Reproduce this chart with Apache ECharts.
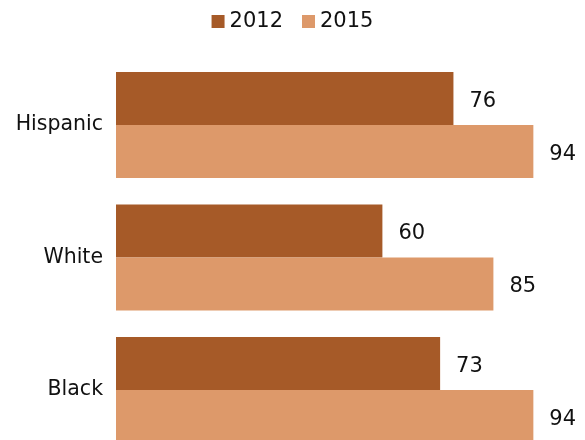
<!DOCTYPE html>
<html><head><meta charset="utf-8">
<script src="https://cdn.jsdelivr.net/npm/echarts@6/dist/echarts.min.js"></script>
<style>html,body{margin:0;padding:0;background:#fff}#c{width:585px;height:440px}</style>
</head><body><div id="c"></div>
<script>
const categories = ['Hispanic', 'White', 'Black'];
const seriesNames = ['2012', '2015'];
const values2012 = [76, 60, 73];
const values2015 = [94, 85, 94];

const chart = echarts.init(document.getElementById('c'));
const labelStyle = { show: true, position: 'right', distance: 16, offset: [0, 3], fontSize: 21, color: '#111', fontFamily: 'DejaVu Sans' };
chart.setOption({
  animation: false,
  legend: {
    top: 6, left: 'center', itemWidth: 13, itemHeight: 13, itemGap: 19,
    icon: 'rect',
    textStyle: { fontSize: 21, color: '#111', fontFamily: 'DejaVu Sans' },
    data: seriesNames
  },
  grid: { left: 116, right: 25, top: 58.75, bottom: -16.25, containLabel: false, outerBoundsMode: 'none' },
  xAxis: { type: 'value', min: 0, max: 100, show: false },
  yAxis: {
    type: 'category', inverse: true, data: categories,
    axisLine: { show: false }, axisTick: { show: false },
    axisLabel: { fontSize: 20.5, color: '#111', margin: 13, padding: [5, 0, 0, 0], fontFamily: 'DejaVu Sans' }
  },
  series: [
    { name: seriesNames[0], type: 'bar', data: values2012, itemStyle: { color: '#a65a28' }, barGap: '0%', barCategoryGap: '20%', label: labelStyle },
    { name: seriesNames[1], type: 'bar', data: values2015, itemStyle: { color: '#dd996a' }, barGap: '0%', barCategoryGap: '20%', label: labelStyle }
  ]
});
</script></body></html>
